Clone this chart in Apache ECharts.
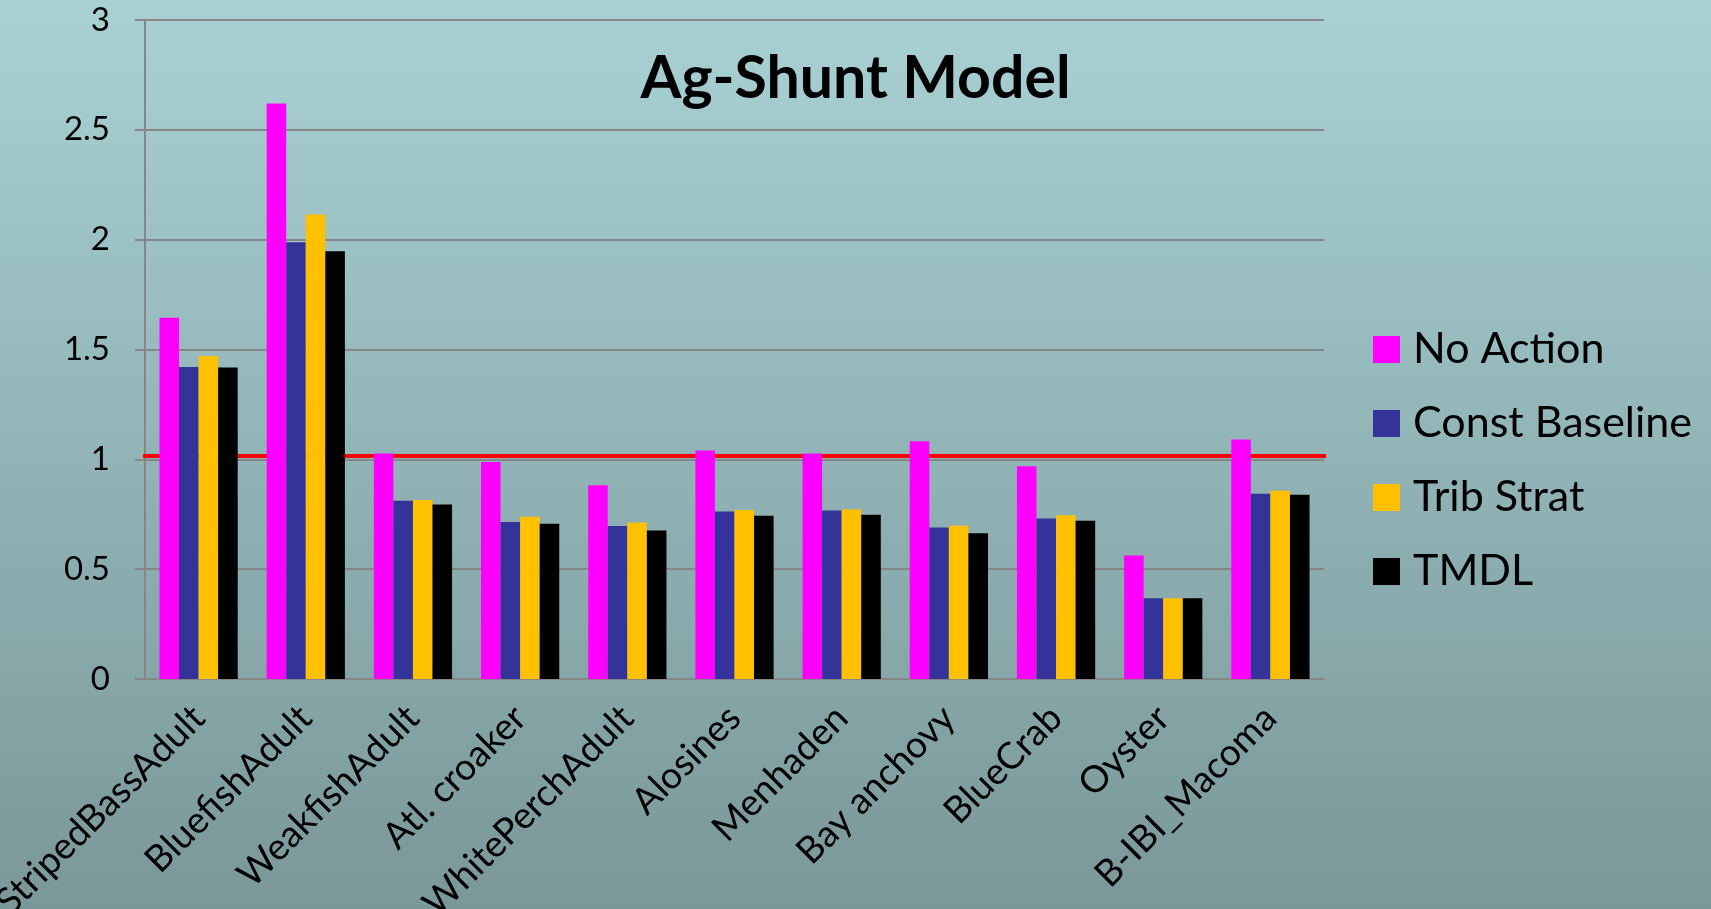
<!DOCTYPE html>
<html>
<head>
<meta charset="utf-8">
<title>Ag-Shunt Model</title>
<script src="https://cdn.jsdelivr.net/npm/echarts@6/dist/echarts.min.js"></script>
<style>
  html, body { margin: 0; padding: 0; }
  #chart { width: 1711px; height: 909px; }
</style>
</head>
<body>
<div id="chart"></div>
<script>
// categories and series values
const categories = ['StripedBassAdult', 'BluefishAdult', 'WeakfishAdult', 'Atl. croaker', 'WhitePerchAdult',
  'Alosines', 'Menhaden', 'Bay anchovy', 'BlueCrab', 'Oyster', 'B-IBI_Macoma'];
const noAction = [1.645, 2.62, 1.026, 0.988, 0.882, 1.04, 1.027, 1.082, 0.968, 0.562, 1.09];
const constBaseline = [1.42, 1.988, 0.811, 0.715, 0.697, 0.763, 0.767, 0.69, 0.731, 0.368, 0.843];
const tribStrat = [1.47, 2.114, 0.815, 0.739, 0.713, 0.769, 0.772, 0.698, 0.745, 0.368, 0.857];
const tmdl = [1.418, 1.947, 0.794, 0.707, 0.676, 0.743, 0.748, 0.664, 0.72, 0.368, 0.839];
const seriesNames = ['No Action', 'Const Baseline', 'Trib Strat', 'TMDL'];
const yTicks = { min: 0, max: 3, interval: 0.5 };
// red threshold line (spans slightly past the plot on both sides)
const refLineX = [-0.005, 1.0136];
const refLineY = 1.015;

const font = 'Lato, "Open Sans", sans-serif';
const colors = ['#ff00ff', '#333399', '#ffc000', '#000000'];

const barSeries = [noAction, constBaseline, tribStrat, tmdl].map((vals, i) => ({
  name: seriesNames[i],
  type: 'bar',
  data: vals,
  barGap: '0%',
  barCategoryGap: '27%',
  z: 3,
  itemStyle: { color: colors[i] },
}));

const chart = echarts.init(document.getElementById('chart'));
chart.setOption({
  backgroundColor: {
    type: 'linear', x: 0, y: 0, x2: 0, y2: 1,
    colorStops: [
      { offset: 0, color: '#a9d1d4' },
      { offset: 1, color: '#7a9799' },
    ],
  },
  animation: false,
  title: {
    text: 'Ag-Shunt Model',
    left: 'center',
    top: 44,
    textStyle: { fontFamily: font, fontWeight: 'bold', fontSize: 59, color: '#000' },
  },
  legend: {
    orient: 'vertical',
    left: 1373,
    top: 328,
    padding: 0,
    itemWidth: 27,
    itemHeight: 27,
    itemGap: 31,
    icon: 'rect',
    data: seriesNames,
    textStyle: { fontFamily: font, fontSize: 43, lineHeight: 27, color: '#000', padding: [0, 0, 0, 8] },
  },
  grid: { left: 145, right: 387, top: 20, bottom: 230, outerBoundsMode: 'none' },
  xAxis: [{
    type: 'category',
    data: categories,
    axisLine: { lineStyle: { color: '#868686', width: 2 } },
    axisTick: { length: 11, lineStyle: { color: '#868686', width: 2 } },
    axisLabel: { rotate: 45, margin: 33, fontFamily: font, fontSize: 37, color: '#000', interval: 0 },
  }, {
    type: 'value',
    min: 0,
    max: 1,
    show: false,
  }],
  yAxis: {
    type: 'value',
    min: yTicks.min,
    max: yTicks.max,
    interval: yTicks.interval,
    axisLine: { show: true, lineStyle: { color: '#868686', width: 2 } },
    axisTick: { show: true, length: 10, lineStyle: { color: '#868686', width: 2 } },
    splitLine: { lineStyle: { color: '#868686', width: 2 } },
    axisLabel: { margin: 35, fontFamily: font, fontSize: 33, color: '#000' },
  },
  series: [...barSeries, {
    name: 'ref',
    type: 'line',
    xAxisIndex: 1,
    data: refLineX.map((x) => [x, refLineY]),
    symbol: 'none',
    clip: false,
    z: 1,
    lineStyle: { color: '#ff0000', width: 4 },
  }],
});
</script>
</body>
</html>
